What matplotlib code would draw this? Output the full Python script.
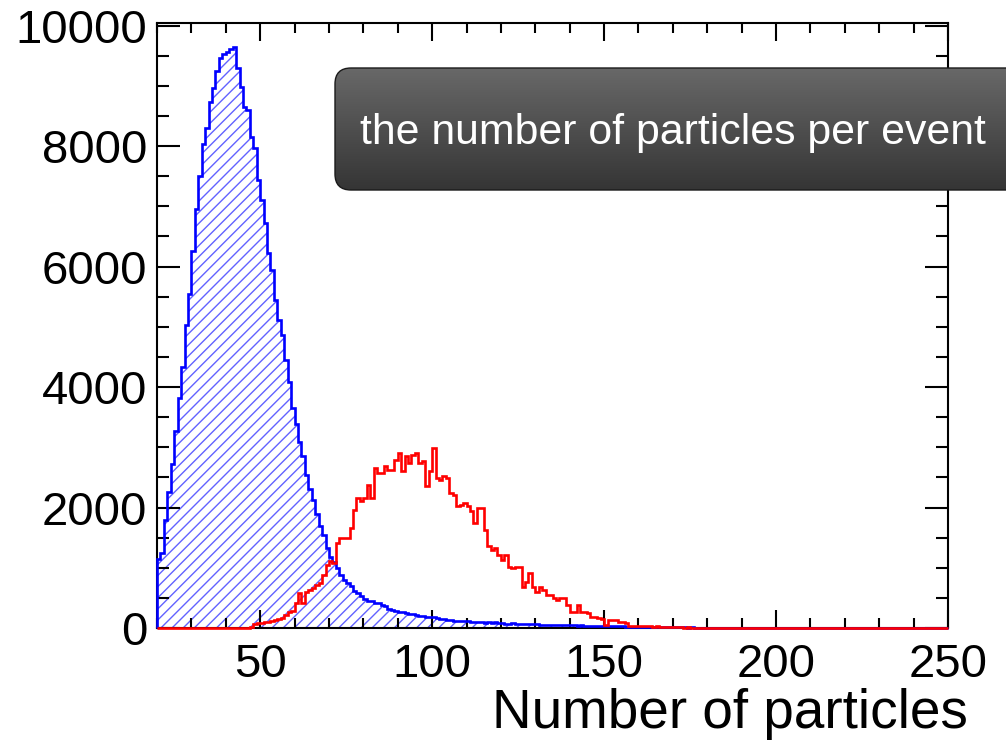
import numpy as np
import matplotlib.pyplot as plt
from matplotlib.patches import FancyBboxPatch
from matplotlib.ticker import MultipleLocator
from matplotlib.colors import LinearSegmentedColormap

plt.rcParams["font.family"] = ["Liberation Sans", "DejaVu Sans"]
plt.rcParams["hatch.linewidth"] = 1.0

# histogram binning: 1 unit per bin from 20 to 250
bin_edges = np.arange(20, 251, 1)

# blue histogram, bins 20..249
blue_counts = [
    1150, 1250, 1800, 2260, 2720, 3270, 3810, 4330, 5030, 5550,   # 20
    6260, 6955, 7510, 8040, 8300, 8730, 8960, 9240, 9460, 9535,   # 30
    9560, 9610, 9640, 9300, 8980, 8650, 8590, 8150, 7960, 7430,   # 40
    7110, 6730, 6230, 5950, 5440, 5120, 4860, 4450, 4090, 3650,   # 50
    3390, 3080, 2860, 2540, 2300, 2120, 1900, 1700, 1550, 1330,   # 60
    1180, 1100, 1000, 880, 800, 749, 694, 610, 583, 527,          # 70
    483, 455, 440, 420, 410, 380, 365, 315, 300, 280,             # 80
    272, 262, 255, 238, 228, 210, 205, 200, 188, 182,             # 90
    178, 158, 150, 148, 140, 128, 124, 120, 118, 115,             # 100
    112, 100, 96, 92, 98, 90, 94, 88, 92, 85,                     # 110
    78, 74, 70, 75, 68, 72, 66, 70, 64, 62,                       # 120
    60, 56, 58, 52, 55, 50, 54, 48, 50, 46,                       # 130
    44, 42, 40, 43, 38, 36, 39, 34, 32, 35,                       # 140
    30, 28, 31, 26, 25, 27, 22, 24, 20, 21,                       # 150
    18, 19, 16, 17, 14, 15, 13, 12, 14, 11,                       # 160
    10, 11, 9, 10, 8, 9, 7, 8, 6, 7,                              # 170
    6, 5, 6, 5, 4, 5, 4, 3, 4, 3,                                 # 180
    3, 3, 2, 3, 2, 2, 2, 1, 2, 1,                                 # 190
    1, 1, 1, 0, 1, 0, 1, 0, 0, 1,                                 # 200
    0, 0, 0, 0, 0, 0, 0, 0, 0, 0,                                 # 210
    0, 0, 0, 0, 0, 0, 0, 0, 0, 0,                                 # 220
    0, 0, 0, 0, 0, 0, 0, 0, 0, 0,                                 # 230
    0, 0, 0, 0, 0, 0, 0, 0, 0, 0,                                 # 240
]

# red histogram, bins 20..249
red_counts = [
    0, 0, 0, 0, 0, 0, 0, 0, 0, 0,                                 # 20
    0, 0, 0, 0, 0, 0, 0, 0, 0, 0,                                 # 30
    0, 0, 0, 0, 0, 0, 5, 10, 60, 80,                              # 40
    85, 95, 105, 110, 130, 150, 161, 217, 272, 280,               # 50
    411, 577, 411, 605, 632, 660, 716, 744, 882, 1049,            # 60
    1104, 1076, 1408, 1492, 1492, 1500, 1658, 1963, 2157, 2102,   # 70
    2157, 2379, 2157, 2657, 2573, 2573, 2684, 2629, 2629, 2795,   # 80
    2906, 2601, 2851, 2740, 2879, 2906, 2740, 2768, 2351, 2600,   # 90
    2990, 2490, 2462, 2518, 2490, 2241, 2213, 2019, 2047, 2075,   # 100
    2019, 1935, 1741, 1991, 1991, 1630, 1353, 1297, 1325, 1214,   # 110
    1131, 1214, 1020, 992, 1020, 1020, 687, 771, 910, 687,        # 120
    605, 687, 632, 549, 549, 494, 466, 494, 494, 383,             # 130
    272, 272, 383, 272, 272, 244, 189, 189, 161, 157,             # 140
    50, 133, 133, 133, 105, 105, 90, 35, 30, 30,                  # 150
    30, 25, 30, 28, 20, 25, 22, 20, 18, 15,                       # 160
    20, 12, 10, 8, 12, 6, 5, 4, 3, 2,                             # 170
    2, 1, 1, 0, 1, 0, 0, 1, 0, 0,                                 # 180
    0, 0, 0, 8, 0, 0, 0, 0, 0, 0,                                 # 190
    0, 0, 0, 0, 0, 0, 0, 0, 0, 0,                                 # 200
    0, 0, 0, 0, 0, 0, 0, 0, 0, 0,                                 # 210
    0, 0, 0, 0, 0, 0, 0, 0, 0, 0,                                 # 220
    0, 0, 0, 0, 0, 0, 0, 0, 0, 0,                                 # 230
    0, 0, 0, 0, 0, 0, 0, 0, 0, 0,                                 # 240
]

x_ticks = [50, 100, 150, 200, 250]
y_ticks = [0, 2000, 4000, 6000, 8000, 10000]
x_label = "Number of particles"
box_text = "the number of particles per event"

W, H = 1006, 743
fig = plt.figure(figsize=(W / 100, H / 100), dpi=100)
ax = fig.add_axes([157 / W, 1 - 628 / H, (948 - 157) / W, (628 - 22.5) / H])

ax.stairs(blue_counts, bin_edges, fill=True, facecolor="none",
          edgecolor="#6262ff", hatch="///", linewidth=0)
ax.stairs(blue_counts, bin_edges, color="#0000ff", linewidth=1.9,
          clip_on=False, zorder=3)
ax.stairs(red_counts, bin_edges, color="#ff0000", linewidth=1.9,
          clip_on=False, zorder=4)

ax.set_xlim(20, 250)
ax.set_ylim(0, 10050)
ax.set_xticks(x_ticks)
ax.set_yticks(y_ticks)
ax.xaxis.set_minor_locator(MultipleLocator(10))
ax.yaxis.set_minor_locator(MultipleLocator(500))
ax.tick_params(axis="x", which="major", direction="in", top=True,
               length=13, width=1.5, pad=11, labelsize=34)
ax.tick_params(axis="x", which="minor", direction="in", top=True,
               length=7, width=1.5)
ax.tick_params(axis="y", which="major", direction="in", right=True,
               length=16.5, width=1.5, pad=7, labelsize=34)
ax.tick_params(axis="y", which="minor", direction="in", right=True,
               length=8.5, width=1.5)
for s in ax.spines.values():
    s.set_linewidth(1.5)

fig.text(968 / W, 1 - 728 / H, x_label, ha="right", va="baseline", fontsize=39.5)

# title box with a vertical grey gradient, drawn in pixel coordinates
ov = fig.add_axes([0, 0, 1, 1])
ov.set_xlim(0, W)
ov.set_ylim(H, 0)
ov.axis("off")
box = FancyBboxPatch((335, 68), 700, 122, boxstyle="round,pad=0,rounding_size=16",
                     facecolor="none", edgecolor="#1a1a1a", linewidth=1)
ov.add_patch(box)
grad = np.linspace(0, 1, 200).reshape(-1, 1)
cmap = LinearSegmentedColormap.from_list("box", ["#686868", "#353535"])
im = ov.imshow(grad, cmap=cmap, extent=(335, 1035, 190, 68), aspect="auto")
im.set_clip_path(box)
ov.set_xlim(0, W)
ov.set_ylim(H, 0)
ov.text(673, 144, box_text, color="white", fontsize=30.8, ha="center", va="baseline")

fig.savefig("out.png", dpi=100)
